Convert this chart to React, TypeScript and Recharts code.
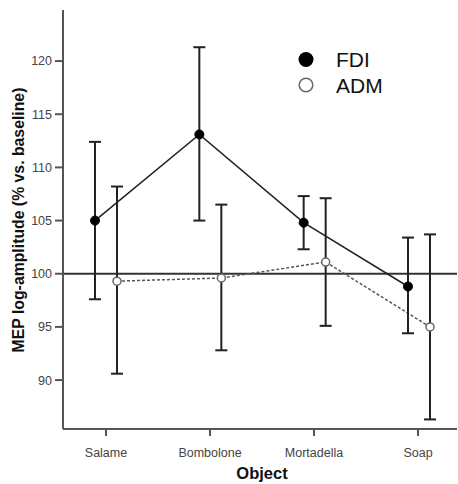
import React from 'react';
import {
  LineChart,
  Line,
  XAxis,
  YAxis,
  ErrorBar,
  ReferenceLine,
  Legend,
} from 'recharts';

// objects grasped
const objects = ['Salame', 'Bombolone', 'Mortadella', 'Soap'];

// FDI: mean and error bar ends
const fdiMean = [105.0, 113.1, 104.8, 98.8];
const fdiLow = [97.6, 105.0, 102.3, 94.4];
const fdiHigh = [112.4, 121.3, 107.3, 103.4];

// ADM: mean and error bar ends
const admMean = [99.3, 99.6, 101.1, 95.0];
const admLow = [90.6, 92.8, 95.1, 86.3];
const admHigh = [108.2, 106.5, 107.1, 103.7];

const yTicks = [90, 95, 100, 105, 110, 115, 120];

const data = objects.map((name, i) => ({
  name,
  fdi: fdiMean[i],
  fdiErr: [fdiMean[i] - fdiLow[i], fdiHigh[i] - fdiMean[i]],
  adm: admMean[i],
  admErr: [admMean[i] - admLow[i], admHigh[i] - admMean[i]],
}));

const font = 'Arial, "Liberation Sans", Helvetica, sans-serif';
const axisColor = '#555';

const LegendBox = () => (
  <svg width={140} height={60} style={{ display: 'block' }}>
    <circle cx={16} cy={14.5} r={7.5} fill="#000" />
    <circle cx={16} cy={40} r={6.8} fill="#fff" stroke="#666" strokeWidth={1.5} />
    <text x={46} y={21.5} fontFamily={font} fontSize={21} fill="#111">FDI</text>
    <text x={46} y={47.5} fontFamily={font} fontSize={21} fill="#111">ADM</text>
  </svg>
);

export default function App() {
  return (
    <div style={{ position: 'absolute', left: 0, top: 0, background: '#fff' }}>
      <LineChart
        width={458}
        height={484}
        data={data}
        margin={{ top: 10, right: 1, bottom: 0, left: 0 }}
      >
        <XAxis
          xAxisId="main"
          dataKey="name"
          type="category"
          scale="point"
          padding={{ left: 43, right: 39 }}
          height={55}
          stroke={axisColor}
          strokeWidth={2}
          tickSize={7}
          tickMargin={12}
          tick={{ fill: '#444', fontSize: 12.5, fontFamily: font }}
          label={{
            content: () => (
              <text
                x={262}
                y={479}
                textAnchor="middle"
                fontFamily={font}
                fontWeight="bold"
                fontSize={16.5}
                fill="#111"
              >
                Object
              </text>
            ),
          }}
        />
        <XAxis xAxisId="fdi" dataKey="name" type="category" scale="point" padding={{ left: 32, right: 49 }} height={0} orientation="top" hide />
        <XAxis xAxisId="adm" dataKey="name" type="category" scale="point" padding={{ left: 54, right: 27 }} height={0} orientation="top" hide />
        <YAxis
          domain={[85.4, 124.8]}
          ticks={yTicks}
          width={63}
          stroke={axisColor}
          strokeWidth={2}
          tickSize={8}
          tickMargin={3}
          tick={{ fill: '#444', fontSize: 12.5, fontFamily: font }}
          allowDataOverflow
          label={{
            content: () => (
              <text
                x={24}
                y={220}
                transform="rotate(-90 24 220)"
                textAnchor="middle"
                fontFamily={font}
                fontWeight="bold"
                fontSize={15.8}
                fill="#111"
              >
                MEP log-amplitude (% vs. baseline)
              </text>
            ),
          }}
        />
        <ReferenceLine xAxisId="main" y={100} stroke="#333" strokeWidth={2} />
        <Legend
          layout="horizontal"
          verticalAlign="middle"
          align="center"
          wrapperStyle={{ top: 45, left: 290, width: 140, height: 60 }}
          content={() => <LegendBox />}
        />
        <Line
          xAxisId="adm"
          dataKey="adm"
          stroke="#555"
          strokeWidth={1.5}
          strokeDasharray="3 2"
          dot={{ r: 4, fill: '#fff', stroke: '#666', strokeWidth: 1.5, strokeDasharray: '0' }}
          isAnimationActive={false}
        >
          <ErrorBar dataKey="admErr" width={6} stroke="#222" strokeWidth={2} direction="y" />
        </Line>
        <Line
          xAxisId="fdi"
          dataKey="fdi"
          stroke="#222"
          strokeWidth={1.5}
          dot={{ r: 4.5, fill: '#000', stroke: '#000', strokeWidth: 1 }}
          isAnimationActive={false}
        >
          <ErrorBar dataKey="fdiErr" width={6} stroke="#222" strokeWidth={2} direction="y" />
        </Line>
      </LineChart>
    </div>
  );
}
